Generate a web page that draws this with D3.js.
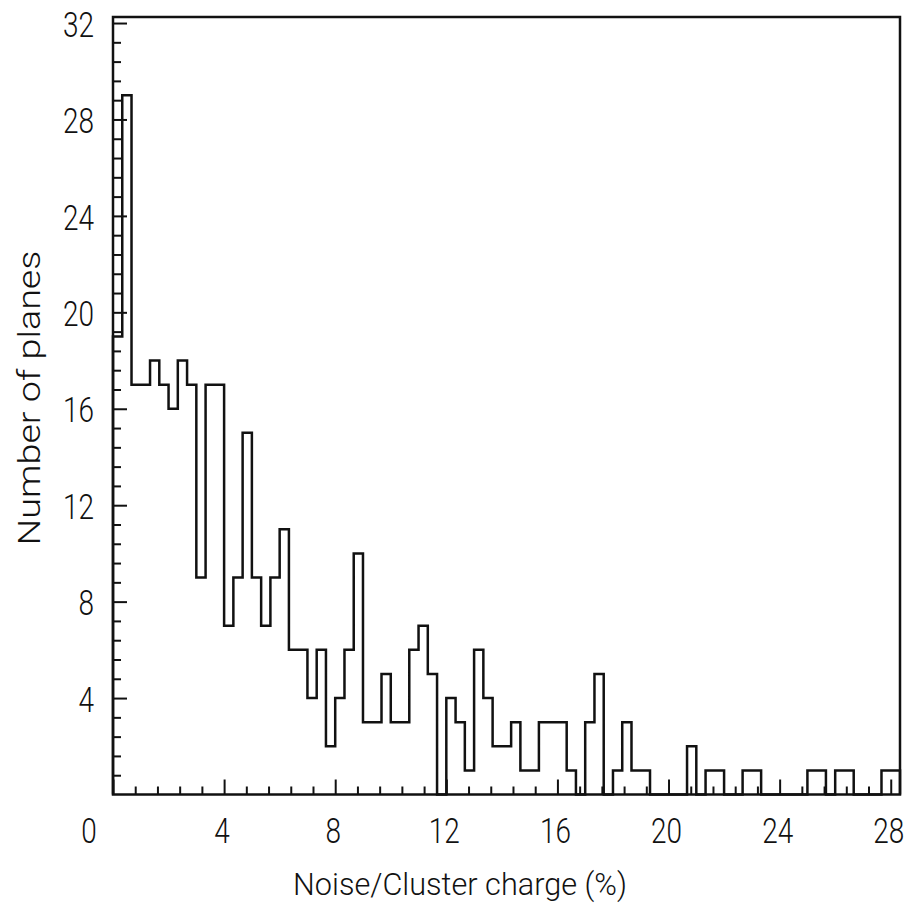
<html>
<head>
  <meta charset="utf-8">
  <title>noise histogram</title>
  <script src="https://d3js.org/d3.v7.min.js"></script>
  <style>
    body { margin: 0; background: #fff; }
    text { font-family: Roboto, "DejaVu Sans", sans-serif; font-weight: 300; fill: #111; }
  </style>
</head>
<body>
<script>
// bins of 1/3 % starting at 0
var binWidth = 1 / 3;
var counts = [19, 29, 17, 17, 18, 17, 16, 18, 17, 9,
              17, 17, 7, 9, 15, 9, 7, 9, 11, 6,
              6, 4, 6, 2, 4, 6, 10, 3, 3, 5,
              3, 3, 6, 7, 5, 0, 4, 3, 1, 6,
              4, 2, 2, 3, 1, 1, 3, 3, 3, 1,
              0, 3, 5, 0, 1, 3, 1, 1, 0, 0,
              0, 0, 2, 0, 1, 1, 0, 0, 1, 1,
              0, 0, 0, 0, 0, 1, 1, 0, 1, 1,
              0, 0, 0, 1, 1];
var xTickLabels = [0, 4, 8, 12, 16, 20, 24, 28];
var yTickLabels = [4, 8, 12, 16, 20, 24, 28, 32];
var xTitle = "Noise/Cluster charge (%)";
var yTitle = "Number of planes";

var width = 906, height = 913;

var x = d3.scaleLinear().domain([0, counts.length * binWidth]).range([113, 900]);
var y = d3.scaleLinear().domain([0, 32.25]).range([794.5, 17]);

var svg = d3.select("body").append("svg")
  .attr("width", width).attr("height", height);

// minor ticks every 0.8, major every 4
var xMinor = d3.range(0, 28.01, 0.8).filter(function(d){ return Math.abs(d / 4 - Math.round(d / 4)) > 0.01; });
var yMinor = d3.range(0, 32.01, 0.8).filter(function(d){ return Math.abs(d / 4 - Math.round(d / 4)) > 0.01; });

function tickAxis(axis, cls, tx, ty) {
  var g = svg.append("g").attr("class", cls)
    .attr("transform", "translate(" + tx + "," + ty + ")")
    .call(axis);
  g.select(".domain").remove();
  g.selectAll("line").attr("stroke", "#111").attr("stroke-width", 2);
  g.selectAll("text").remove();
}

tickAxis(d3.axisBottom(x).tickValues(xMinor).tickSize(-8), "xminor", 0, y(0));
tickAxis(d3.axisBottom(x).tickValues(xTickLabels).tickSize(-15), "xmajor", 0, y(0));
tickAxis(d3.axisLeft(y).tickValues(yMinor).tickSize(-8), "yminor", x(0), 0);
tickAxis(d3.axisLeft(y).tickValues(yTickLabels).tickSize(-14), "ymajor", x(0), 0);

// histogram outline
var path = "M" + x(0) + "," + y(0);
counts.forEach(function(c, i){
  path += "V" + y(c) + "H" + x((i + 1) * binWidth);
});
path += "V" + y(0);

svg.append("path")
  .attr("d", path)
  .attr("fill", "none")
  .attr("stroke", "#111")
  .attr("stroke-width", 2.5);

// frame
svg.append("rect")
  .attr("x", x.range()[0]).attr("y", y.range()[1])
  .attr("width", x.range()[1] - x.range()[0])
  .attr("height", y.range()[0] - y.range()[1])
  .attr("fill", "none")
  .attr("stroke", "#111")
  .attr("stroke-width", 2.5);

// narrow lettering: squeeze text horizontally
var labelSize = 35;
var probe = svg.append("text").style("font-size", labelSize + "px").text("28");
var sx = 31 / probe.node().getComputedTextLength();
probe.remove();

function label(px, py, txt, anchor) {
  svg.append("text")
    .attr("transform", "translate(" + px + "," + py + ") scale(" + sx + ",1)")
    .attr("text-anchor", anchor)
    .attr("dy", "0.36em")
    .style("font-size", labelSize + "px")
    .text(txt);
}

xTickLabels.forEach(function(d){
  var px = d === 0 ? 89 : x(d) - 2;
  label(px, 830, d, "middle");
});
yTickLabels.forEach(function(d){
  label(94, y(d) + 1, d, "end");
});

// titles
var xt = svg.append("text")
  .attr("text-anchor", "middle")
  .style("font-size", "31px")
  .text(xTitle);
var xs = 334 / xt.node().getComputedTextLength();
xt.attr("transform", "translate(460,895) scale(" + xs + ",1)");

var yt = svg.append("text")
  .attr("text-anchor", "middle")
  .style("font-size", "31px")
  .text(yTitle);
var ys = 295 / yt.node().getComputedTextLength();
yt.attr("transform", "translate(40,398) rotate(-90) scale(" + ys + ",1)");
</script>
</body>
</html>
